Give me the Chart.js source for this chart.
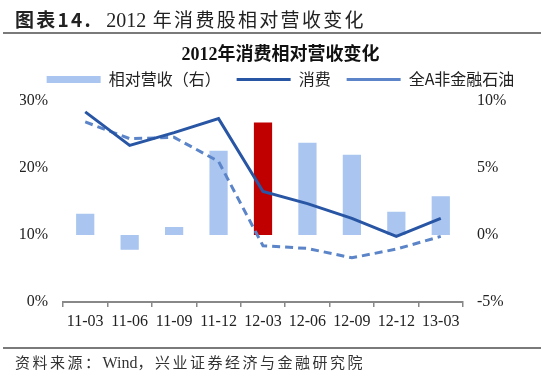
<!DOCTYPE html>
<html>
<head>
<meta charset="utf-8">
<script src="https://cdn.jsdelivr.net/npm/chart.js@4/dist/chart.umd.min.js"></script>
<style>
  html, body { margin:0; padding:0; background:#fff; }
  body { width:541px; height:374px; position:relative; overflow:hidden; }
  #wrap { position:absolute; left:0; top:0; width:541px; height:374px; }
  .title { position:absolute; left:15px; top:6px; font-family:"Noto Sans CJK SC", sans-serif; font-size:19px; color:#222; letter-spacing:2.3px; white-space:nowrap; line-height:26px; }
  .title b { font-weight:bold; }
  .rule { position:absolute; left:3px; width:538px; height:2px; background:#7a7a7a; }
  .foot { position:absolute; left:15px; top:351px; font-family:"Noto Sans CJK SC", sans-serif; font-size:15px; color:#333; letter-spacing:2.5px; white-space:nowrap; line-height:22px; }
  .foot span { font-family:"Liberation Serif", serif; letter-spacing:0; font-size:16px; }
</style>
</head>
<body>
<div id="wrap"><canvas id="c" width="541" height="374"></canvas></div>
<div class="title"><b>图表14.</b>&nbsp; <span style="font-family:'Liberation Serif',serif;letter-spacing:0;font-size:20px">2012</span> 年消费股相对营收变化</div>
<div class="rule" style="top:32px"></div>
<div class="rule" style="top:347px"></div>
<div class="foot">资料来源：<span>Wind</span>，兴业证券经济与金融研究院</div>
<script>
const categories = ['11-03','11-06','11-09','11-12','12-03','12-06','12-09','12-12','13-03'];
const relRevenue = [1.6, -1.1, 0.6, 6.3, 8.4, 6.9, 6.0, 1.75, 2.9];
const consumption = [28.4, 23.4, 25.3, 27.4, 16.5, 14.7, 12.5, 9.8, 12.5];
const allANonFin = [26.9, 24.4, 24.6, 21.0, 8.4, 8.0, 6.6, 7.9, 9.8];
const leftTicks = [0, 10, 20, 30];
const rightTicks = [-5, 0, 5, 10];
const highlightIndex = 4;

const barColors = categories.map((c, i) => i === highlightIndex ? '#c00000' : '#a9c5f0');

new Chart(document.getElementById('c'), {
  data: {
    labels: categories,
    datasets: [
      { type:'bar', label:'相对营收（右）', data: relRevenue, yAxisID:'yR',
        backgroundColor: barColors, borderWidth:0, barPercentage:0.41, categoryPercentage:1,
        pointStyle:'rect', order:2 },
      { type:'line', label:'消费', data: consumption, yAxisID:'yL',
        borderColor:'#2856a5', backgroundColor:'#2856a5', borderWidth:3, pointRadius:0,
        pointStyle:'line', tension:0, order:0 },
      { type:'line', label:'全A非金融石油', data: allANonFin, yAxisID:'yL',
        borderColor:'#5b85c8', backgroundColor:'#5b85c8', borderWidth:3, borderDash:[8,5], pointRadius:0,
        pointStyle:'line', tension:0, order:1 }
    ]
  },
  options: {
    responsive:false, animation:false, devicePixelRatio:1,
    layout: { padding: { top:41, bottom:42, left:20, right:0 } },
    plugins: {
      tooltip: { enabled:false },
      title: { display:true, text:'2012年消费相对营收变化', color:'#111',
        font:{ family:"'Liberation Serif','Noto Sans CJK SC',serif", size:18, weight:'bold' },
        padding:{ top:4, bottom:-11.2 } },
      subtitle: { display:true, text:' ', weight:500, position:'top',
        font:{ size:1 }, padding:{ top:0, bottom:2.6 } },
      legend: { display:true, position:'top',
        labels: { usePointStyle:true, pointStyleWidth:54, boxHeight:7, padding:16, color:'#222',
          font:{ family:"'Noto Sans CJK SC',sans-serif", size:16 },
          sort:(a,b)=>a.datasetIndex-b.datasetIndex } }
    },
    scales: {
      x: { type:'category', offset:true,
        grid:{ display:true, drawOnChartArea:false, drawTicks:true, tickLength:5, color:'#888', lineWidth:1.5, offset:true },
        border:{ display:true, color:'#888', width:2 },
        ticks:{ color:'#222', padding:5, maxRotation:0, autoSkip:false,
          font:{ family:"'Liberation Serif',serif", size:16 } },
        afterFit:(s)=>{ s.height = 30; } },
      yL: { type:'linear', position:'left', min:0, max:30,
        afterBuildTicks:(s)=>{ s.ticks = leftTicks.map(v=>({value:v})); },
        grid:{ display:false, drawTicks:false }, border:{ display:false },
        ticks:{ color:'#222', padding:15, callback:(v)=>v+'%',
          font:{ family:"'Liberation Serif',serif", size:16 } },
        afterFit:(s)=>{ s.width = 43; } },
      yR: { type:'linear', position:'right', min:-5, max:10,
        afterBuildTicks:(s)=>{ s.ticks = rightTicks.map(v=>({value:v})); },
        grid:{ display:false, drawTicks:false }, border:{ display:false },
        ticks:{ color:'#222', padding:14, callback:(v)=>v+'%',
          font:{ family:"'Liberation Serif',serif", size:16 } },
        afterFit:(s)=>{ s.width = 78; } }
    }
  }
});
</script>
</body>
</html>
